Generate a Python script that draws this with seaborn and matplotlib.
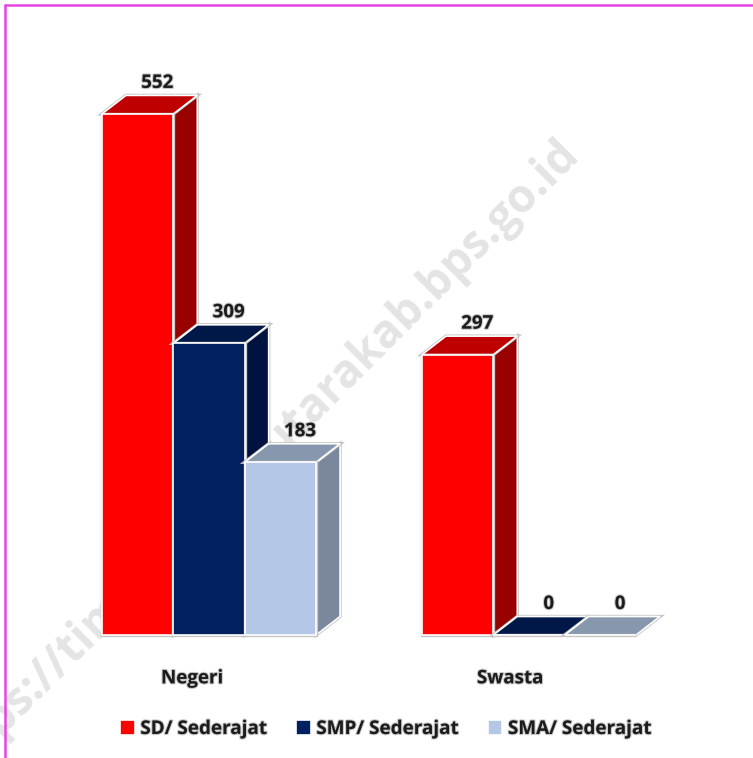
import pandas as pd
import matplotlib
matplotlib.use("Agg")
import matplotlib.pyplot as plt
import matplotlib.patheffects as pe
from matplotlib.lines import Line2D
from matplotlib.patches import Polygon
import seaborn as sns

groups = ["Negeri", "Swasta"]
levels = ["SD/ Sederajat", "SMP/ Sederajat", "SMA/ Sederajat"]
sd = [552, 297]
smp = [309, 0]
sma = [183, 0]

front_colors = ["#FF0000", "#002060", "#B4C7E7"]
top_colors = ["#BE0000", "#001848", "#8797AD"]
side_colors = ["#990000", "#001340", "#7A879C"]
watermark = "https://timortengahutarakab.bps.go.id"

df = pd.DataFrame({
    "group": groups * 3,
    "level": [levels[0]] * 2 + [levels[1]] * 2 + [levels[2]] * 2,
    "value": sd + smp + sma,
})

sns.set_theme(style="white")
plt.rcParams["font.family"] = ["Open Sans", "DejaVu Sans"]

W, H = 753, 758
fig = plt.figure(figsize=(W / 100, H / 100), dpi=100)
ax = fig.add_axes([0, (H - 635) / H, 1, 635 / H])

sns.barplot(data=df, x="group", y="value", hue="level", hue_order=levels,
            palette=front_colors, width=0.669, gap=0, saturation=1, ax=ax,
            edgecolor="white", linewidth=1.2, errorbar=None)

# 1 unit on x = 320 px, 1 unit on y = 0.944 px
ax.set_xlim(-209 / 320, 544 / 320)
ax.set_ylim(0, 635 / 0.944)
dx = 24 / 320
dy = 18.5 / 0.944

shadow = [pe.withStroke(linewidth=2.4, foreground="#c4c4c4")]
blur = [pe.withStroke(linewidth=1.6, foreground="#888888", alpha=0.45)]

# fake 3d: side and top faces, painted left to right
for i, container in enumerate(ax.containers):
    for bar in container:
        x0, w, h = bar.get_x(), bar.get_width(), bar.get_height()
        x1 = x0 + w
        order = 10 + x0 * 10
        if h > 0:
            ax.add_patch(Polygon([(x1, 0), (x1 + dx, dy), (x1 + dx, h + dy), (x1, h)],
                                 facecolor=side_colors[i], edgecolor="white", linewidth=1.2,
                                 zorder=order, clip_on=False, path_effects=shadow))
        ax.add_patch(Polygon([(x0, h), (x0 + dx, h + dy), (x1 + dx, h + dy), (x1, h)],
                             facecolor=top_colors[i], edgecolor="white", linewidth=1.2,
                             zorder=order, clip_on=False, path_effects=shadow))
        bar.set_zorder(order + 0.1)
        bar.set_clip_on(False)
        bar.set_path_effects(shadow)
        ax.annotate(f"{h:.0f}", (x0 + w / 2 + dx * 0.82, h + dy), xytext=(0, 9),
                    textcoords="offset points", ha="center", va="center",
                    fontsize=13.5, fontweight="bold", color="#1c1c1c", zorder=40, path_effects=blur)

ax.set_xticks([-0.053, 0.941], groups)
ax.tick_params(axis="x", length=0, pad=24, labelsize=13.5, colors="#1c1c1c")
for lab in ax.get_xticklabels():
    lab.set_fontweight("bold")
    lab.set_path_effects(blur)
ax.set_yticks([])
ax.set_xlabel("")
ax.set_ylabel("")
sns.despine(ax=ax, left=True, bottom=True, top=True, right=True)
ax.patch.set_alpha(0)

leg = ax.legend(loc="center", bbox_to_anchor=(386 / W, 29 / H), bbox_transform=fig.transFigure,
                ncol=3, frameon=False, fontsize=13.6, handlelength=0.75, handleheight=0.85,
                handletextpad=0.3, columnspacing=1.55)
for t in leg.get_texts():
    t.set_fontweight("bold")
    t.set_color("#1c1c1c")
    t.set_path_effects(blur)

ax.text(555 / W, 1 - 130 / H, watermark, transform=fig.transFigure, rotation=45, ha="right", va="top",
        rotation_mode="anchor", fontsize=33, fontweight="bold", color="#c4c4c4", alpha=0.45,
        zorder=1, clip_on=False)

# magenta frame on the left and top
fig.add_artist(Line2D([5 / W, 5 / W], [0, 1 - 5 / H], color="#E645E6", lw=1.8))
fig.add_artist(Line2D([5 / W, 1], [1 - 5 / H, 1 - 5 / H], color="#E645E6", lw=1.8))

fig.savefig("out.png", dpi=100)
